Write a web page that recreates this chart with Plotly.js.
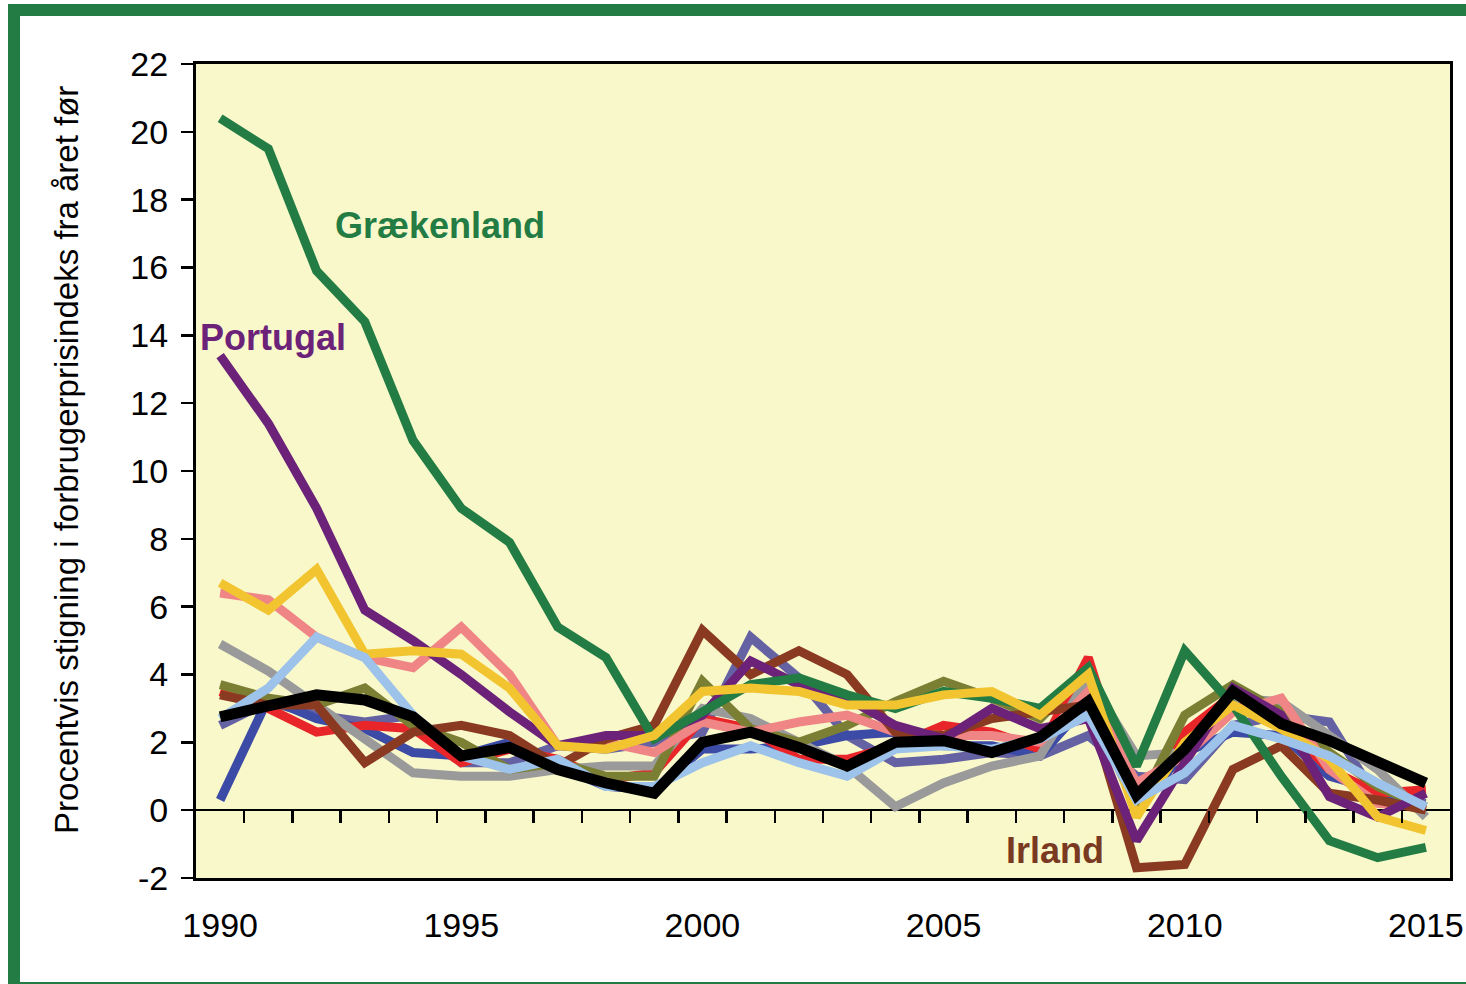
<!DOCTYPE html>
<html>
<head>
<meta charset="utf-8">
<script src="https://cdn.plot.ly/plotly-3.0.1.min.js"></script>
<style>
  html, body { margin: 0; padding: 0; background: #ffffff; overflow: hidden; }
  #wrap { position: relative; width: 1466px; height: 984px; }
  #chart { position: absolute; left: 0; top: 0; width: 1466px; height: 984px; }
  #frame { position: absolute; left: 8px; top: 4px; width: 1480px; height: 966px;
           border: 12px solid #237C43; pointer-events: none; }
</style>
</head>
<body>
<div id="wrap">
  <div id="chart"></div>
  <div id="frame"></div>
</div>
<script>
const years = [1990,1991,1992,1993,1994,1995,1996,1997,1998,1999,2000,2001,2002,2003,2004,2005,2006,2007,2008,2009,2010,2011,2012,2013,2014,2015];

const netherlands = [2.5,3.2,2.8,2.6,2.8,1.4,1.4,1.9,1.8,2.0,2.3,5.1,3.9,2.2,1.4,1.5,1.7,1.6,2.2,1.0,0.9,2.5,2.8,2.6,0.3,0.2];
const france      = [0.3,3.3,2.7,2.4,1.7,1.6,2.0,1.3,0.7,0.6,1.8,1.8,1.9,2.2,2.3,1.9,1.9,1.6,3.2,0.1,1.7,2.3,2.2,1.0,0.6,0.1];
const belgium     = [3.5,3.0,2.3,2.5,2.4,1.4,1.8,1.5,0.9,1.1,2.7,2.4,1.5,1.5,1.9,2.5,2.3,1.8,4.5,0.0,2.3,3.4,2.6,1.2,0.5,0.6];
const finland     = [4.9,4.1,3.1,2.1,1.1,1.0,1.0,1.2,1.3,1.3,3.0,2.7,2.0,1.3,0.1,0.8,1.3,1.6,3.9,1.6,1.7,3.3,3.2,2.2,1.2,-0.2];
const luxembourg  = [3.7,3.3,3.1,3.6,2.5,2.0,1.2,1.4,1.0,1.0,3.8,2.4,2.0,2.5,3.2,3.8,3.3,2.7,4.1,0.0,2.8,3.7,2.9,1.7,0.7,0.1];
const italy       = [6.4,6.2,5.1,4.5,4.2,5.4,4.0,1.9,2.0,1.7,2.6,2.3,2.6,2.8,2.3,2.2,2.2,2.0,3.5,0.8,1.6,2.9,3.3,1.2,0.2,0.1];
const ireland     = [3.4,3.1,3.1,1.4,2.3,2.5,2.2,1.3,2.1,2.5,5.3,4.0,4.7,4.0,2.3,2.2,2.7,2.9,3.1,-1.7,-1.6,1.2,1.9,0.5,0.3,0.0];
const portugal    = [13.4,11.4,8.9,5.9,5.0,4.0,2.9,1.9,2.2,2.2,2.8,4.4,3.7,3.3,2.5,2.1,3.0,2.4,2.7,-0.9,1.4,3.6,2.8,0.4,-0.2,0.5];
const greece      = [20.4,19.5,15.9,14.4,10.9,8.9,7.9,5.4,4.5,2.1,2.9,3.7,3.9,3.4,3.0,3.5,3.3,3.0,4.2,1.3,4.7,3.1,1.0,-0.9,-1.4,-1.1];
const spain       = [6.7,5.9,7.1,4.6,4.7,4.6,3.6,1.9,1.8,2.2,3.5,3.6,3.5,3.1,3.1,3.4,3.5,2.8,4.0,-0.2,2.0,3.1,2.4,1.5,-0.2,-0.6];
const germany     = [2.7,3.6,5.1,4.5,2.8,1.6,1.2,1.5,0.7,0.7,1.4,1.9,1.4,1.0,1.8,1.9,1.8,2.1,2.8,0.3,1.1,2.5,2.1,1.6,0.8,0.1];
const euroArea    = [2.75,3.05,3.4,3.25,2.75,1.6,1.85,1.2,0.8,0.5,2.0,2.3,1.85,1.3,2.0,2.05,1.7,2.15,3.2,0.45,1.8,3.5,2.55,2.05,1.45,0.8];

const yTickVals   = [-2,0,2,4,6,8,10,12,14,16,18,20,22];
const yTickLabels = ["-2","0","2","4","6","8","10","12","14","16","18","20","22"];
const xTickVals   = [1990,1995,2000,2005,2010,2015];
const xTickLabels = ["1990","1995","2000","2005","2010","2015"];

const yTitle = "Procentvis stigning i forbrugerprisindeks fra året før";
const labels = [
  {text: "Grækenland", year: 1994.56, value: 17.25, color: "#237C43"},
  {text: "Portugal",   year: 1991.1,  value: 13.95, color: "#6B2278"},
  {text: "Irland",     year: 2007.3,  value: -1.18, color: "#7A3A22"}
];

const series = [
  {name: "Holland",     y: netherlands, color: "#6562A3", w: 9},
  {name: "Frankrig",    y: france,      color: "#3C4BA6", w: 9},
  {name: "Belgien",     y: belgium,     color: "#E8262A", w: 9},
  {name: "Finland",     y: finland,     color: "#9A9A9A", w: 9},
  {name: "Luxembourg",  y: luxembourg,  color: "#7B7F34", w: 9},
  {name: "Italien",     y: italy,       color: "#F08585", w: 9},
  {name: "Irland",      y: ireland,     color: "#8B3A22", w: 9},
  {name: "Portugal",    y: portugal,    color: "#6B2278", w: 9},
  {name: "Grækenland",  y: greece,      color: "#237C43", w: 9},
  {name: "Spanien",     y: spain,       color: "#F2C530", w: 9},
  {name: "Tyskland",    y: germany,     color: "#9DC3EA", w: 9},
  {name: "Euroområdet", y: euroArea,    color: "#000000", w: 11}
];

const FONT = "Liberation Sans, Arial, sans-serif";

const traces = series.map(s => ({
  type: "scatter", mode: "lines", name: s.name,
  x: years, y: s.y,
  line: {color: s.color, width: s.w, shape: "linear"},
  hoverinfo: "x+y+name", showlegend: false
}));
// helper trace so the zero-line tick axis is drawn
traces.push({type: "scatter", mode: "lines", x: [years[0]], y: [null], xaxis: "x2", yaxis: "y",
             showlegend: false, hoverinfo: "skip"});

const xRange = [years[0] - 0.5, years[years.length - 1] + 0.5];
const boundaryTicks = years.slice(0, -1).map(y => y + 0.5);

const annotations = labels.map(l => ({
  x: l.year, y: l.value, xref: "x", yref: "y",
  text: "<b>" + l.text + "</b>", showarrow: false,
  xanchor: "center", yanchor: "middle",
  font: {family: FONT, size: 36, color: l.color}
}));
annotations.push({
  x: -0.1037, y: 0.5135, xref: "paper", yref: "paper",
  text: yTitle, textangle: -90, showarrow: false,
  xanchor: "center", yanchor: "middle",
  font: {family: FONT, size: 33, color: "#000000"}
});

const layout = {
  width: 1466, height: 984,
  margin: {l: 196, r: 16, t: 64, b: 106},
  paper_bgcolor: "#ffffff",
  plot_bgcolor: "#F8F8CB",
  showlegend: false,
  font: {family: FONT, color: "#000000"},
  xaxis: {
    range: xRange, tickmode: "array", tickvals: xTickVals, ticktext: xTickLabels,
    ticks: "", showgrid: false, zeroline: false,
    showline: true, mirror: true, linecolor: "#000000", linewidth: 3,
    tickfont: {family: FONT, size: 34, color: "#000000"},
    ticklabelstandoff: 15
  },
  xaxis2: {
    overlaying: "x", anchor: "free", position: 2 / 24,
    range: xRange, tickmode: "array", tickvals: boundaryTicks,
    ticks: "outside", ticklen: 12, tickwidth: 2.5, tickcolor: "#000000",
    showticklabels: false, showgrid: false, zeroline: false, showline: false
  },
  yaxis: {
    range: [-2, 22], tickmode: "array", tickvals: yTickVals, ticktext: yTickLabels,
    ticks: "outside", ticklen: 12, tickwidth: 2.5, tickcolor: "#000000",
    showgrid: false, zeroline: true, zerolinecolor: "#000000", zerolinewidth: 2.5,
    showline: true, mirror: true, linecolor: "#000000", linewidth: 3,
    tickfont: {family: FONT, size: 34, color: "#000000"},
    ticklabelstandoff: 6
  },
  annotations: annotations
};

Plotly.newPlot("chart", traces, layout, {displayModeBar: false, staticPlot: true});
</script>
</body>
</html>
